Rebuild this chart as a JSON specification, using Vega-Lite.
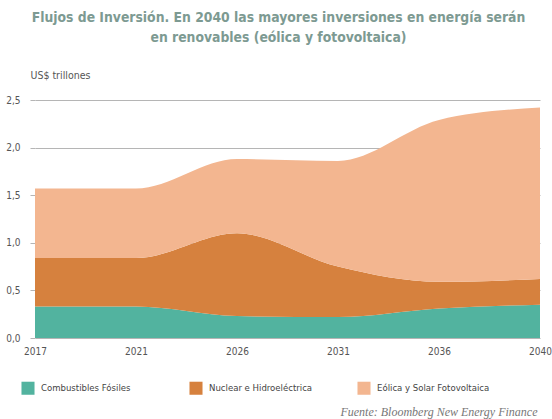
{
  "$schema": "https://vega.github.io/schema/vega-lite/v6.json",
  "autosize": {"type": "none"},
  "width": 505,
  "height": 238,
  "padding": {"left": 35, "top": 100, "right": 12, "bottom": 81},
  "background": "white",
  "title": {
    "text": ["Flujos de Inversión. En 2040  las mayores inversiones en energía serán", "en renovables (eólica y fotovoltaica)"],
    "anchor": "middle",
    "frame": "group",
    "offset": 25,
    "dx": -9,
    "font": "Liberation Sans Narrow, DejaVu Sans Condensed, sans-serif",
    "fontSize": 13.8,
    "fontWeight": "bold",
    "color": "#7d9a92",
    "lineHeight": 20
  },
  "data": {
    "values": [
      {"year": "2017", "tipo": "Combustibles Fósiles", "k": 1, "v": 0.33},
      {"year": "2021", "tipo": "Combustibles Fósiles", "k": 1, "v": 0.33},
      {"year": "2026", "tipo": "Combustibles Fósiles", "k": 1, "v": 0.23},
      {"year": "2031", "tipo": "Combustibles Fósiles", "k": 1, "v": 0.22},
      {"year": "2036", "tipo": "Combustibles Fósiles", "k": 1, "v": 0.31},
      {"year": "2040", "tipo": "Combustibles Fósiles", "k": 1, "v": 0.35},
      {"year": "2017", "tipo": "Nuclear e Hidroeléctrica", "k": 2, "v": 0.51},
      {"year": "2021", "tipo": "Nuclear e Hidroeléctrica", "k": 2, "v": 0.51},
      {"year": "2026", "tipo": "Nuclear e Hidroeléctrica", "k": 2, "v": 0.87},
      {"year": "2031", "tipo": "Nuclear e Hidroeléctrica", "k": 2, "v": 0.53},
      {"year": "2036", "tipo": "Nuclear e Hidroeléctrica", "k": 2, "v": 0.28},
      {"year": "2040", "tipo": "Nuclear e Hidroeléctrica", "k": 2, "v": 0.27},
      {"year": "2017", "tipo": "Eólica y Solar Fotovoltaica", "k": 3, "v": 0.73},
      {"year": "2021", "tipo": "Eólica y Solar Fotovoltaica", "k": 3, "v": 0.73},
      {"year": "2026", "tipo": "Eólica y Solar Fotovoltaica", "k": 3, "v": 0.78},
      {"year": "2031", "tipo": "Eólica y Solar Fotovoltaica", "k": 3, "v": 1.11},
      {"year": "2036", "tipo": "Eólica y Solar Fotovoltaica", "k": 3, "v": 1.70},
      {"year": "2040", "tipo": "Eólica y Solar Fotovoltaica", "k": 3, "v": 1.80}
    ]
  },
  "mark": {"type": "area", "interpolate": "monotone"},
  "encoding": {
    "x": {
      "field": "year",
      "type": "ordinal",
      "scale": {"type": "point", "padding": 0},
      "axis": {
        "labelAngle": 0,
        "domain": false,
        "ticks": false,
        "labelPadding": 8,
        "labelFont": "Liberation Sans Narrow, DejaVu Sans Condensed, sans-serif",
        "labelFontSize": 10,
        "labelColor": "#555",
        "title": "Fuente: Bloomberg New Energy Finance",
        "titleFont": "Liberation Serif, serif",
        "titleFontStyle": "italic",
        "titleFontWeight": "normal",
        "titleFontSize": 12,
        "titleColor": "#777",
        "titleAlign": "right",
        "titleAnchor": null,
        "titleX": 502,
        "titleY": 73,
        "titleBaseline": "middle"
      }
    },
    "y": {
      "field": "v",
      "type": "quantitative",
      "stack": "zero",
      "scale": {"domain": [0, 2.5], "nice": false},
      "axis": {
        "values": [0, 0.5, 1, 1.5, 2, 2.5],
        "labelExpr": "replace(format(datum.value, '.1f'), '.', ',')",
        "domain": false,
        "grid": true,
        "gridColor": "#b5b5b5",
        "gridWidth": 1,
        "tickColor": "#b5b5b5",
        "tickSize": 5,
        "labelPadding": 10,
        "labelFont": "Liberation Sans Narrow, DejaVu Sans Condensed, sans-serif",
        "labelFontSize": 10,
        "labelColor": "#555",
        "title": "US$ trillones",
        "titleAngle": 0,
        "titleAlign": "left",
        "titleBaseline": "middle",
        "titleX": -5,
        "titleY": -25,
        "titleFont": "Liberation Sans Narrow, DejaVu Sans Condensed, sans-serif",
        "titleFontSize": 10.5,
        "titleFontWeight": "normal",
        "titleColor": "#555"
      }
    },
    "color": {
      "field": "tipo",
      "type": "nominal",
      "sort": ["Combustibles Fósiles", "Nuclear e Hidroeléctrica", "Eólica y Solar Fotovoltaica"],
      "scale": {
        "domain": ["Combustibles Fósiles", "Nuclear e Hidroeléctrica", "Eólica y Solar Fotovoltaica"],
        "range": ["#52b39f", "#d6813e", "#f3b690"]
      },
      "legend": {
        "orient": "none",
        "legendX": -14,
        "legendY": 281,
        "direction": "horizontal",
        "columns": 3,
        "gridAlign": "all",
        "columnPadding": 35,
        "title": null,
        "symbolType": "square",
        "symbolSize": 170,
        "symbolStrokeWidth": 0,
        "symbolOpacity": 1,
        "labelFont": "Liberation Sans Narrow, DejaVu Sans Condensed, sans-serif",
        "labelFontSize": 9.5,
        "labelColor": "#444",
        "labelOffset": 6
      }
    },
    "order": {"field": "k", "type": "quantitative"}
  },
  "config": {
    "view": {"stroke": null},
    "area": {"opacity": 1}
  }
}
